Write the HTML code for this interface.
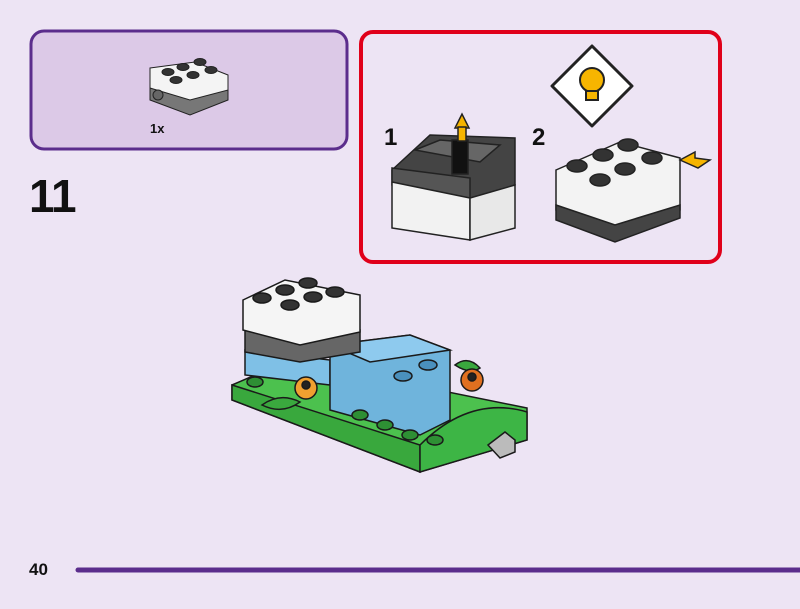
<!DOCTYPE html>
<html><head><meta charset="utf-8"><style>
html,body{margin:0;padding:0;background:#ede4f4;}
body{width:800px;height:604px;overflow:hidden;font-family:"Liberation Sans",sans-serif;}
</style></head><body>
<svg width="800" height="604" viewBox="0 0 800 604" xmlns="http://www.w3.org/2000/svg">
<rect width="800" height="604" fill="#ede4f4"/>
<rect x="31" y="31" width="316" height="118" rx="13" fill="#dcc9e7" stroke="#5b2d8c" stroke-width="3"/>
<g stroke="#222" stroke-width="1">
<polygon points="150,68 195,62 228,75 228,98 190,108 150,95" fill="#f4f4f4"/>
<polygon points="150,88 190,100 228,90 228,100 190,115 150,100" fill="#777"/>
<circle cx="158" cy="95" r="5" fill="#666"/>
<ellipse cx="168" cy="72" rx="6" ry="3.5" fill="#333"/>
<ellipse cx="183" cy="67" rx="6" ry="3.5" fill="#333"/>
<ellipse cx="200" cy="62" rx="6" ry="3.5" fill="#333"/>
<ellipse cx="176" cy="80" rx="6" ry="3.5" fill="#333"/>
<ellipse cx="193" cy="75" rx="6" ry="3.5" fill="#333"/>
<ellipse cx="211" cy="70" rx="6" ry="3.5" fill="#333"/>
</g>
<text x="150" y="133" font-size="13" font-weight="bold" fill="#111">1x</text>
<text x="29" y="212" font-size="46" font-weight="bold" fill="#111" letter-spacing="-1">11</text>
<rect x="361" y="32" width="359" height="230" rx="12" fill="#ede4f4" stroke="#e0001a" stroke-width="4"/>
<text x="384" y="145" font-size="24" font-weight="bold" fill="#111">1</text>
<text x="532" y="145" font-size="24" font-weight="bold" fill="#111">2</text>
<polygon points="592,46 632,86 592,126 552,86" fill="#fff" stroke="#222" stroke-width="3" stroke-linejoin="round"/>
<circle cx="592" cy="80" r="12" fill="#f7b500" stroke="#222" stroke-width="2"/>
<rect x="586" y="91" width="12" height="9" fill="#f7b500" stroke="#222" stroke-width="2"/>
<g stroke="#222" stroke-width="1.5">
<polygon points="392,170 430,135 515,138 515,185 470,200 392,180" fill="#444"/>
<polygon points="392,168 470,178 470,200 392,185" fill="#555"/>
<polygon points="392,182 470,198 470,240 392,228" fill="#f2f2f2"/>
<polygon points="470,198 515,185 515,228 470,240" fill="#e8e8e8"/>
<polygon points="415,150 440,140 500,145 480,162" fill="#666"/>
<rect x="452" y="140" width="16" height="34" fill="#111"/>
<polygon points="455,128 462,114 469,128" fill="#f6b400"/>
<rect x="458" y="127" width="8" height="14" fill="#f6b400"/>
</g>
<g stroke="#222" stroke-width="1.5">
<polygon points="556,170 620,142 680,158 680,210 615,235 556,210" fill="#f3f3f3"/>
<polygon points="556,205 615,225 680,205 680,218 615,242 556,220" fill="#444"/>
<ellipse cx="577" cy="166" rx="10" ry="6" fill="#333"/>
<ellipse cx="603" cy="155" rx="10" ry="6" fill="#333"/>
<ellipse cx="628" cy="145" rx="10" ry="6" fill="#333"/>
<ellipse cx="600" cy="180" rx="10" ry="6" fill="#333"/>
<ellipse cx="625" cy="169" rx="10" ry="6" fill="#333"/>
<ellipse cx="652" cy="158" rx="10" ry="6" fill="#333"/>
<polygon points="680,160 695,152 695,158 710,160 698,168" fill="#f6b400"/>
</g>
<g stroke="#1a1a1a" stroke-width="1.5">
<polygon points="232,385 290,360 527,408 527,440 420,472 232,400" fill="#4cc14e"/>
<polygon points="232,385 420,445 420,472 232,400" fill="#39a83d"/>
<path d="M420,445 Q470,395 527,412 L527,440 420,472 Z" fill="#3db545"/>
<path d="M262,405 Q280,392 300,402 Q282,415 262,405 Z" fill="#3aa83e"/>
<path d="M455,365 Q468,355 480,368 Q470,375 455,365 Z" fill="#3aa83e"/>
<polygon points="245,350 330,360 330,385 245,375" fill="#7fc0e6"/>
<polygon points="330,345 410,335 450,350 450,420 420,435 330,410" fill="#6fb4dc"/>
<polygon points="330,345 410,335 450,350 370,362" fill="#8ecaee"/>
<polygon points="245,330 300,335 360,330 360,352 300,362 245,352" fill="#666"/>
<polygon points="243,300 285,280 360,295 360,332 300,345 243,330" fill="#f5f5f5"/>
<ellipse cx="262" cy="298" rx="9" ry="5" fill="#333"/>
<ellipse cx="285" cy="290" rx="9" ry="5" fill="#333"/>
<ellipse cx="308" cy="283" rx="9" ry="5" fill="#333"/>
<ellipse cx="290" cy="305" rx="9" ry="5" fill="#333"/>
<ellipse cx="313" cy="297" rx="9" ry="5" fill="#333"/>
<ellipse cx="335" cy="292" rx="9" ry="5" fill="#333"/>
<ellipse cx="403" cy="376" rx="9" ry="5" fill="#4a90bd"/>
<ellipse cx="428" cy="365" rx="9" ry="5" fill="#4a90bd"/>
<circle cx="306" cy="388" r="11" fill="#f0a030"/>
<circle cx="306" cy="385" r="4" fill="#222"/>
<circle cx="472" cy="380" r="11" fill="#e07020"/>
<circle cx="472" cy="377" r="4" fill="#222"/>
<ellipse cx="360" cy="415" rx="8" ry="5" fill="#2e8f34"/>
<ellipse cx="385" cy="425" rx="8" ry="5" fill="#2e8f34"/>
<ellipse cx="410" cy="435" rx="8" ry="5" fill="#2e8f34"/>
<ellipse cx="435" cy="440" rx="8" ry="5" fill="#2e8f34"/>
<ellipse cx="255" cy="382" rx="8" ry="5" fill="#2e8f34"/>
<polygon points="488,445 505,432 515,440 515,452 500,458" fill="#bbb"/>
</g>
<text x="29" y="575" font-size="17" font-weight="bold" fill="#111">40</text>
<line x1="78" y1="570" x2="800" y2="570" stroke="#5b2d8c" stroke-width="5" stroke-linecap="round"/>
</svg>
</body></html>
